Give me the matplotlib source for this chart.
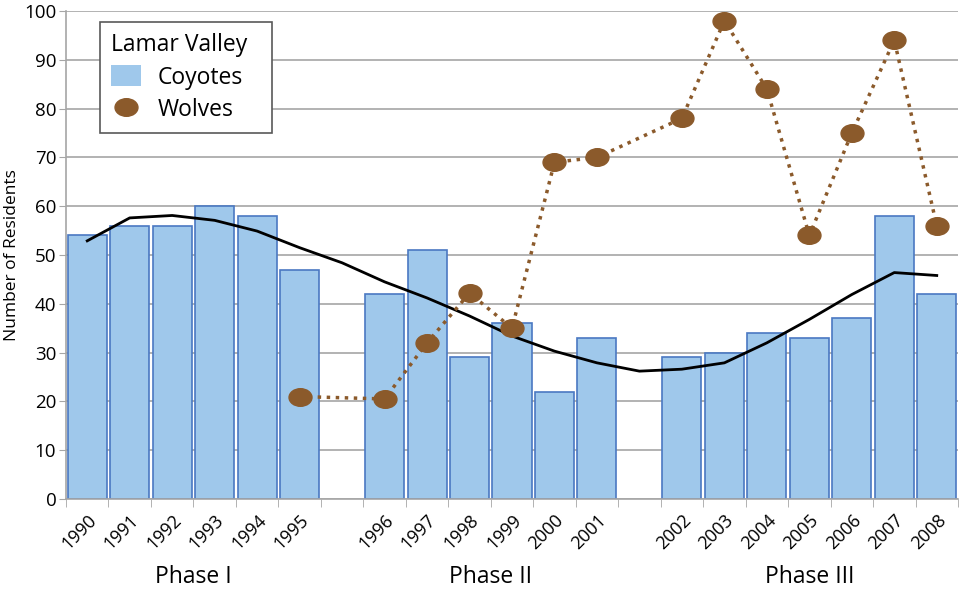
import numpy as np
import matplotlib
matplotlib.use('Agg')
from matplotlib import pyplot as plt
from matplotlib.path import Path
from matplotlib.transforms import Affine2D
from matplotlib.lines import Line2D
from matplotlib.patches import Patch

plt.rcParams['font.family'] = ['Open Sans', 'DejaVu Sans']

# data
years = [1990, 1991, 1992, 1993, 1994, 1995,
         1996, 1997, 1998, 1999, 2000, 2001,
         2002, 2003, 2004, 2005, 2006, 2007, 2008]
coyotes = [54, 56, 56, 60, 58, 47,
           42, 51, 29, 36, 22, 33,
           29, 30, 34, 33, 37, 58, 42]
wolf_years = [1995, 1996, 1997, 1998, 1999, 2000, 2001,
              2002, 2003, 2004, 2005, 2006, 2007, 2008]
wolves = [21, 20.5, 32, 42.2, 35, 69, 70,
          78, 98, 84, 54, 75, 94, 56]
# trend line as drawn, one value per category slot (gaps included)
trend = [52.9, 57.6, 58.1, 57.1, 54.9, 51.5, 48.4, 44.5, 41.2, 37.5, 33.4,
         30.3, 27.9, 26.2, 26.6, 27.9, 32.0, 36.8, 41.9, 46.4, 45.8]
phases = ['Phase I', 'Phase II', 'Phase III']
phase_start = [1990, 1996, 2002]

# slot positions: one empty slot before each new phase
def slot(y):
    gaps = sum(1 for p in phase_start[1:] if y >= p)
    return years.index(y) + gaps

x_bar = [slot(y) for y in years]
x_wolf = [slot(y) for y in wolf_years]
n_slots = len(years) + len(phase_start) - 1

ellipse = Path.unit_circle().transformed(Affine2D().scale(1.3, 1.0))
brown = '#8B5A2B'
blue = '#9FC8EB'

fig = plt.figure(figsize=(9.6, 5.89), dpi=100)
ax = fig.add_axes([66/960, 1-499/589, (958-66)/960, (499-11)/589])

ax.bar(x_bar, coyotes, width=0.92, color=blue, edgecolor='#4A78C2',
       linewidth=1.2, zorder=2)
ax.plot(range(n_slots), trend, color='black', linewidth=2, zorder=3,
        solid_joinstyle='round')
ax.plot(x_wolf, wolves, color=brown, linestyle=(0, (1, 1.6)), linewidth=2.5,
        zorder=4)
ax.plot(x_wolf, wolves, linestyle='none', marker=ellipse, markersize=16.5,
        color=brown, zorder=5)

ax.set_xlim(-0.5, n_slots - 0.5)
ax.set_ylim(0, 100)
ax.set_yticks(range(0, 101, 10))
ax.yaxis.grid(True, color='#A6A6A6', linewidth=1.2, zorder=0)
ax.set_axisbelow(True)
ax.tick_params(axis='y', labelsize=13.5, length=5, color='#A6A6A6', pad=2)

ax.set_xticks(x_bar)
ax.set_xticklabels([str(y) for y in years], rotation=45, ha='right',
                   rotation_mode='anchor', fontsize=13)
ax.tick_params(axis='x', length=0, pad=9)
ax.set_xticks(np.arange(-0.5, n_slots, 1.0), minor=True)
ax.tick_params(axis='x', which='minor', length=6, color='#A6A6A6')

for s in ['top', 'right']:
    ax.spines[s].set_visible(False)
for s in ['left', 'bottom']:
    ax.spines[s].set_color('#A6A6A6')
    ax.spines[s].set_linewidth(1.2)

ax.set_ylabel('Number of Residents', fontsize=12.5, labelpad=3)

# phase labels centred under each group
bounds = phase_start + [None]
for i, name in enumerate(phases):
    grp = [slot(y) for y in years if y >= phase_start[i] and (bounds[i+1] is None or y < bounds[i+1])]
    ax.text(np.mean(grp), -15.9, name, ha='center', va='center', fontsize=16.5,
            clip_on=False)

handles = [Patch(facecolor=blue, edgecolor='none'),
           Line2D([], [], linestyle='none', marker=ellipse, markersize=16.5, color=brown)]
leg = ax.legend(handles, ['Coyotes', 'Wolves'], title='Lamar Valley',
                loc='upper left', bbox_to_anchor=(34/892, 1-121/488, 172/892, 110/488),
                mode='expand', borderaxespad=0,
                fontsize=16.5, title_fontsize=16.5, frameon=True, fancybox=False,
                edgecolor='#595959', handlelength=1.3, handleheight=1.0,
                borderpad=0.5, labelspacing=0.35, handletextpad=0.7,
                alignment='left', framealpha=1)
leg.get_frame().set_linewidth(1.2)
leg.set_zorder(6)

fig.savefig('out.png', dpi=100)
